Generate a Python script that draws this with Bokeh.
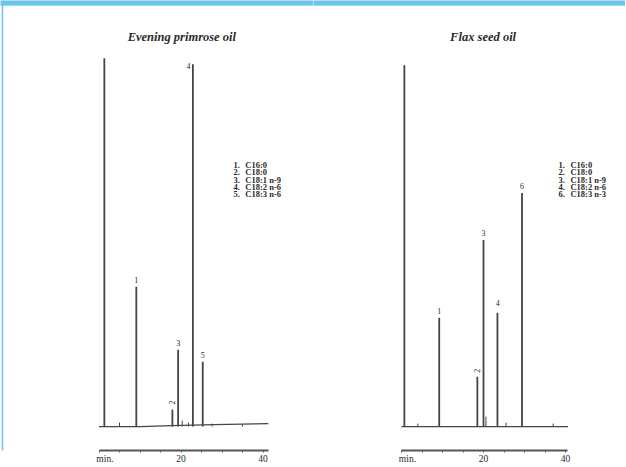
from bokeh.plotting import figure
from bokeh.layouts import row
from bokeh.models import Range1d, FixedTicker, Label, ColumnDataSource, BoxAnnotation, Span
from bokeh.embed import file_html
from bokeh.resources import INLINE
from bokeh.core.properties import value
import math

# ---------------- data ----------------
tick_vals = [0, 5, 10, 15, 20, 25, 30, 35, 40]
tick_text = ["min.", "", "", "", "20", "", "", "", "40"]

epo_title = "Evening primrose oil"
epo_peak_t = [1.3, 9.1, 17.9, 19.3, 22.9, 25.3]
epo_peak_h = [369, 140, 17, 77, 363, 65]
epo_peak_lab = ["", "1", "2", "3", "4", "5"]
epo_minor_t = [5.0, 20.3, 21.8, 27.6, 35.0]
epo_minor_h = [4, 6, 4, 3, 2]
epo_base_t = [0, 10, 18, 28, 41.3]
epo_base_v = [0, 0, 1, 2, 3]
epo_leg_num = ["1.", "2.", "3.", "4.", "5."]
epo_leg_txt = ["C16:0", "C18:0", "C18:1 n-9", "C18:2 n-6", "C18:3 n-6"]

flax_title = "Flax seed oil"
flax_peak_t = [0.7, 9.2, 18.5, 20.0, 23.4, 29.4]
flax_peak_h = [362, 109, 50, 187, 114, 234]
flax_peak_lab = ["", "1", "2", "3", "4", "6"]
flax_minor_t = [4.0, 20.6, 25.5, 37.0]
flax_minor_h = [3, 10, 4, 3]
flax_base_t = [0, 40.6]
flax_base_v = [0, 0]
flax_leg_num = ["1.", "2.", "3.", "4.", "6."]
flax_leg_txt = ["C16:0", "C18:0", "C18:1 n-9", "C18:2 n-6", "C18:3 n-3"]

# ---------------- styling ----------------
SERIF = "Liberation Serif"
INK = "#454545"
TXT = "#2a2a2a"
BLUE = "#6cc4ee"
PX_PER_MIN = 4.1
H = 466
NBSP = "\u00a0"


def panel(title, peak_t, peak_h, peak_lab, minor_t, minor_h, base_t, base_v,
          leg_num, leg_txt, width, zero_px, axis_end, title_x, leg_x, label_shift,
          left_line=False):
    x0 = -zero_px / PX_PER_MIN
    x1 = (width - zero_px) / PX_PER_MIN
    p = figure(width=width, height=H, output_backend="svg", toolbar_location=None,
               x_range=Range1d(x0, x1), y_range=Range1d(-24, 427),
               min_border_left=0, min_border_right=0,
               min_border_top=0, min_border_bottom=15,
               y_axis_location=None)
    p.outline_line_color = None
    p.grid.visible = False
    p.background_fill_color = "white"
    p.border_fill_color = "white"

    # page frame decoration (blue band at the top, thin line at the left)
    p.add_layout(BoxAnnotation(bottom=422, top=440, left=x0 - 5, right=x1 + 5,
                               fill_color=BLUE, fill_alpha=1.0, line_color=BLUE,
                               line_width=1))
    if left_line:
        p.add_layout(Span(location=(2 - zero_px) / PX_PER_MIN, dimension="height",
                          line_color=BLUE, line_width=1.5))

    # baseline and peaks
    p.line(base_t, base_v, line_color=INK, line_width=1.2)
    p.segment(x0=minor_t, y0=[0] * len(minor_t), x1=minor_t, y1=minor_h,
              line_color=INK, line_width=1.0)
    p.segment(x0=peak_t, y0=[0] * len(peak_t), x1=peak_t, y1=peak_h,
              line_color=INK, line_width=1.8)

    # peak labels
    lx, ly, la, lt = [], [], [], []
    for t, h, s in zip(peak_t, peak_h, peak_lab):
        if not s:
            continue
        dx, dy, ang = label_shift.get(s, (0, 7, 0))
        lx.append(t + dx)
        ly.append(h + dy)
        la.append(ang)
        lt.append(s)
    src = ColumnDataSource(dict(x=lx, y=ly, text=lt, angle=la))
    p.text(x="x", y="y", text="text", angle="angle", source=src,
           text_font=value(SERIF), text_font_size="8px", text_color=TXT,
           text_align="center", text_baseline="middle")

    # legend
    ys = [262 - i * 7.25 for i in range(len(leg_num))]
    p.text(x=[leg_x] * len(leg_num), y=ys, text=leg_num,
           text_font=value(SERIF), text_font_size="8.5px", text_font_style="bold",
           text_color=TXT, text_align="left", text_baseline="middle")
    p.text(x=[leg_x + 2.9] * len(leg_txt), y=ys, text=leg_txt,
           text_font=value(SERIF), text_font_size="8.5px", text_font_style="bold",
           text_color=TXT, text_align="left", text_baseline="middle")

    # title
    p.add_layout(Label(x=title_x, y=390, text=title, text_align="center",
                       text_baseline="middle", text_font=SERIF,
                       text_font_style="bold italic", text_font_size="12.5px",
                       text_color=TXT))

    # axis
    ax = p.xaxis[0]
    ax.ticker = FixedTicker(ticks=tick_vals, minor_ticks=[])
    ax.bounds = (0, axis_end)
    overrides = {}
    for v, s in zip(tick_vals, tick_text):
        # the unit label sits to the right of the axis start
        overrides[v] = (NBSP * 5 + s) if (v == 0 and s) else s
    ax.major_label_overrides = overrides
    ax.axis_line_width = 2
    ax.axis_line_color = "#555555"
    ax.major_tick_line_color = "#555555"
    ax.major_tick_in = 0
    ax.major_tick_out = 2
    ax.minor_tick_line_color = None
    ax.major_label_standoff = 1
    ax.major_label_text_font = SERIF
    ax.major_label_text_font_size = "9.5px"
    ax.major_label_text_color = TXT
    return p


left = panel(epo_title, epo_peak_t, epo_peak_h, epo_peak_lab, epo_minor_t, epo_minor_h,
             epo_base_t, epo_base_v, epo_leg_num, epo_leg_txt,
             width=313, zero_px=98.5, axis_end=41.3, title_x=20.2, leg_x=32.8,
             label_shift={"4": (-1.1, -2, 0), "2": (-0.1, 7, math.pi / 2)},
             left_line=True)
right = panel(flax_title, flax_peak_t, flax_peak_h, flax_peak_lab, flax_minor_t, flax_minor_h,
              flax_base_t, flax_base_v, flax_leg_num, flax_leg_txt,
              width=312, zero_px=88, axis_end=40.6, title_x=19.9, leg_x=38.3,
              label_shift={"2": (-0.1, 6, math.pi / 2), "4": (0.1, 10, 0)})

layout = row(left, right)
open("out.html", "w").write(file_html(layout, INLINE))
